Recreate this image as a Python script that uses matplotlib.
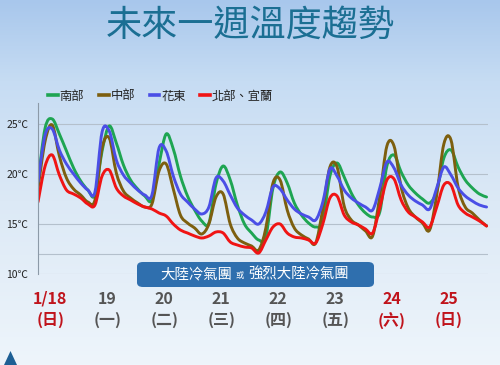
import numpy as np
import matplotlib
matplotlib.use("Agg")
from matplotlib import pyplot as plt
from matplotlib.path import Path
from matplotlib.patches import PathPatch, FancyBboxPatch, Polygon
from matplotlib.transforms import blended_transform_factory
from matplotlib.lines import Line2D

plt.rcParams['font.family'] = ['Noto Sans CJK TC', 'DejaVu Sans']

# 3-hourly forecast, hours from start of 1/18
hours = list(range(0, 192, 3))

south = [19.2, 24.6, 25.5, 24.0, 22.3, 20.6, 19.3, 18.4,
         17.9, 22.3, 24.8, 23.1, 20.9, 19.4, 18.5, 17.8,
         17.4, 21.0, 24.0, 22.5, 19.8, 17.8, 16.4, 15.3,
         15.1, 19.0, 20.8, 19.4, 16.9, 15.0, 14.1, 13.4,
         13.7, 18.6, 20.2, 19.1, 17.1, 15.9, 15.1, 14.7,
         15.3, 19.8, 21.1, 19.7, 18.1, 16.9, 16.1, 15.7,
         16.2, 20.8, 21.9, 20.2, 18.9, 18.1, 17.5, 17.1,
         18.3, 21.6, 22.4, 20.7, 19.4, 18.6, 18.0, 17.7]

central = [18.5, 23.3, 24.9, 21.8, 19.6, 18.5, 17.9, 17.2,
           17.4, 22.6, 23.6, 20.1, 18.3, 17.6, 17.1, 16.7,
           17.0, 20.3, 21.0, 18.5, 15.9, 15.1, 14.6, 14.0,
           15.0, 17.7, 18.0, 15.0, 13.6, 13.1, 12.8, 12.4,
           14.6, 19.1, 19.4, 16.4, 14.6, 13.9, 13.5, 13.1,
           16.5, 20.7, 20.7, 16.8, 15.4, 14.9, 14.3, 13.8,
           17.8, 22.8, 22.8, 18.7, 16.6, 15.7, 15.1, 14.4,
           17.9, 23.0, 23.4, 18.7, 16.7, 16.1, 15.4, 14.8]

east = [19.2, 23.9, 24.5, 22.4, 21.0, 20.0, 19.1, 18.4,
        18.2, 24.2, 24.3, 21.4, 19.9, 19.1, 18.4, 17.9,
        17.9, 22.6, 22.3, 19.8, 18.0, 17.2, 16.5, 16.0,
        16.7, 19.6, 19.3, 17.9, 16.6, 15.9, 15.4, 15.0,
        16.2, 18.7, 18.5, 17.4, 16.5, 16.0, 15.7, 15.4,
        17.2, 20.5, 19.8, 18.4, 17.6, 17.1, 16.7, 16.4,
        18.6, 21.2, 20.6, 18.9, 17.9, 17.3, 16.9, 16.5,
        18.6, 20.7, 19.9, 18.6, 17.8, 17.3, 16.9, 16.7]

north = [17.2, 20.8, 21.9, 19.9, 18.4, 18.0, 17.6, 17.0,
         16.9, 19.8, 20.4, 18.6, 17.8, 17.4, 17.0, 16.7,
         16.5, 16.1, 15.8, 15.0, 14.4, 14.1, 13.8, 13.6,
         13.8, 14.2, 14.1, 13.2, 12.9, 12.7, 12.6, 12.1,
         13.4, 14.7, 15.0, 14.1, 13.7, 13.6, 13.4, 13.1,
         15.0, 17.6, 17.8, 15.9, 15.2, 14.9, 14.5, 14.1,
         16.6, 19.4, 19.5, 17.4, 16.2, 15.7, 15.2, 14.7,
         16.7, 18.9, 18.9, 16.9, 16.1, 15.7, 15.3, 14.8]

series_names = ['南部', '中部', '花東', '北部、宜蘭']
series_colors = ['#1ea552', '#7d5f0f', '#4a4ee6', '#f01414']

ytick_vals = [10, 15, 20, 25]
grid_levels = [10, 12, 15, 20, 25]

day_labels = ['1/18', '19', '20', '21', '22', '23', '24', '25']
weekday_labels = ['(日)', '(一)', '(二)', '(三)', '(四)', '(五)', '(六)', '(日)']
holiday = [True, False, False, False, False, False, True, True]


def smooth_path(x, y):
    # smoothed line through the points (Catmull-Rom as cubic Bezier)
    pts = np.column_stack([x, y]).astype(float)
    n = len(pts)
    verts = [pts[0]]
    codes = [Path.MOVETO]
    for i in range(n - 1):
        p0 = pts[max(i - 1, 0)]
        p1 = pts[i]
        p2 = pts[i + 1]
        p3 = pts[min(i + 2, n - 1)]
        verts += [p1 + (p2 - p0) / 6, p2 - (p3 - p1) / 6, p2]
        codes += [Path.CURVE4] * 3
    return Path(verts, codes)


fig = plt.figure(figsize=(5, 3.65), dpi=100)

# background gradient
bg = fig.add_axes([0, 0, 1, 1], zorder=-5)
stops = np.array([0, 0.22, 0.55, 1.0])
cols = np.array([[168, 199, 236], [198, 220, 243], [220, 233, 246], [238, 245, 251]]) / 255
yy = np.linspace(0, 1, 365)
grad = np.stack([np.interp(yy, stops, cols[:, c]) for c in range(3)], axis=-1)[:, None, :]
bg.imshow(grad, aspect='auto', extent=[0, 1, 0, 1])
bg.axis('off')

fig.text(0.5, 1 - 26 / 365, '未來一週溫度趨勢', fontsize=26, color='#1b6f93',
         ha='center', va='center')

ax = fig.add_axes([0.076, 0.2493, 0.9, 0.4685])
ax.patch.set_alpha(0)
ax.set_xlim(0, 189.6)
ax.set_ylim(10, 27.1)

for g in grid_levels:
    ax.axhline(g, color='#b4c0cc', lw=0.8, zorder=0)

for name, vals, col in zip(series_names, [south, central, east, north], series_colors):
    ax.add_patch(PathPatch(smooth_path(hours, vals), fill=False, edgecolor=col,
                           lw=2.1, capstyle='round', joinstyle='round', zorder=2))

ax.set_yticks(ytick_vals)
ax.set_yticklabels([f'{v}℃' for v in ytick_vals], fontsize=7.5, color='#222222')
ax.set_xticks([])
ax.tick_params(axis='y', length=0, pad=7)
for s in ['top', 'right', 'bottom']:
    ax.spines[s].set_visible(False)
ax.spines['left'].set_color('#8c9aa8')
ax.spines['left'].set_linewidth(0.8)

handles = [Line2D([], [], color=c, lw=2.6) for c in series_colors]
fig.legend(handles, series_names, loc='center left', bbox_to_anchor=(0.096, 1 - 96 / 365),
           ncol=4, frameon=False, fontsize=8.8, handlelength=0.8, handletextpad=0.15,
           columnspacing=1.2, borderpad=0, borderaxespad=0, labelcolor='#222222')

# cold air mass banner
fig.patches.append(FancyBboxPatch((0.274, 0.2137), 0.474, 0.0685,
                                  boxstyle='round,pad=0,rounding_size=0.012',
                                  transform=fig.transFigure, facecolor='#2f6fae',
                                  edgecolor='none', zorder=3))
fig.text(0.464, 0.248, '大陸冷氣團', fontsize=10.4, color='white', ha='right', va='center', zorder=4)
fig.text(0.480, 0.244, '或', fontsize=6, color='white', ha='center', va='center', zorder=4)
fig.text(0.496, 0.248, '強烈大陸冷氣團', fontsize=10.4, color='white', ha='left', va='center', zorder=4)

# day labels
trans = blended_transform_factory(ax.transData, fig.transFigure)
for i, (d, w, hol) in enumerate(zip(day_labels, weekday_labels, holiday)):
    c = '#c0141c' if hol else '#555555'
    xpos = i * 24 + 5.2
    ax.text(xpos, 1 - 299 / 365, d, transform=trans, ha='center', va='center',
            fontsize=11.5, fontweight='bold', color=c, clip_on=False)
    ax.text(xpos, 1 - 320 / 365, w, transform=trans, ha='center', va='center',
            fontsize=11.5, fontweight='bold', color=c, clip_on=False)

fig.patches.append(Polygon([(0.021, 1 - 351 / 365), (0.008, 0), (0.034, 0)], closed=True,
                           transform=fig.transFigure, facecolor='#1d5f94', edgecolor='none'))

fig.savefig('out.png', dpi=100)
